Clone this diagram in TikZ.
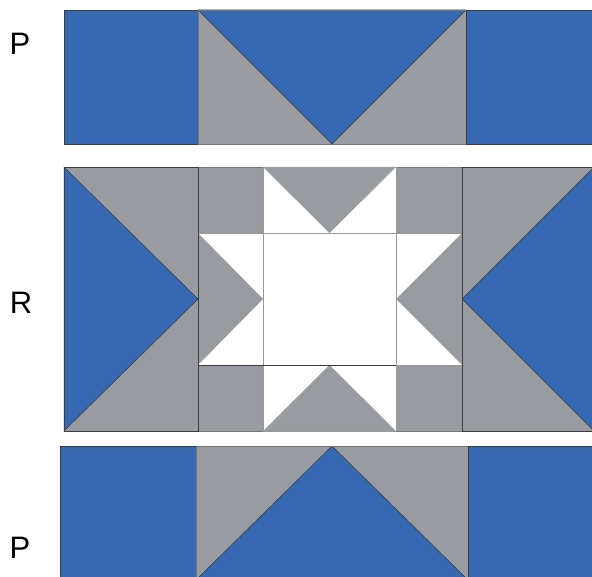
\documentclass[tikz,border=0pt]{standalone}
\usepackage{fontspec}
\setmainfont{Liberation Sans}
\usepackage{tikz}
\definecolor{quiltblue}{HTML}{3768B2}
\definecolor{quiltgray}{HTML}{989CA0}
\definecolor{seam}{HTML}{3C3C3C}
\tikzset{
  bluepatch/.style={fill=quiltblue, draw=seam, line width=0.5pt},
  graypatch/.style={fill=quiltgray, draw=seam!70, line width=0.5pt},
  whitepatch/.style={fill=white, draw=black!40, line width=0.4pt},
  rowlabel/.style={font=\fontsize{31}{31}\selectfont, inner sep=0pt}
}
\begin{document}
\begin{tikzpicture}[x=1pt, y=-1pt]
  \useasboundingbox (0,0) rectangle (592,577);
  \clip (0,0) rectangle (592,577);

  % top row P
  \fill[bluepatch] (64,10) rectangle (198,144);
  \fill[graypatch] (198,10) rectangle (466,144);
  \filldraw[bluepatch] (198,10) -- (466,10) -- (332,144) -- cycle;
  \draw[graypatch, fill=none] (198,10) rectangle (466,144);
  \fill[bluepatch] (466,10) rectangle (600,144);

  % middle row R
  \filldraw[graypatch] (64,167) rectangle (198,431);
  \filldraw[bluepatch] (64,167) -- (198,299) -- (64,431) -- cycle;
  \filldraw[graypatch] (462,167) rectangle (594,431);
  \filldraw[bluepatch] (594,167) -- (462,299) -- (594,431) -- cycle;
  \filldraw[graypatch] (198,167) rectangle (263,233);
  \filldraw[graypatch] (198,365) rectangle (263,431);
  \filldraw[graypatch] (396,167) rectangle (462,233);
  \filldraw[graypatch] (396,365) rectangle (462,431);
  \filldraw[whitepatch] (263,167) rectangle (396,233);
  \fill[quiltgray] (263,167) -- (396,167) -- (329.5,233) -- cycle;
  \filldraw[whitepatch] (263,365) rectangle (396,431);
  \fill[quiltgray] (263,431) -- (396,431) -- (329.5,365) -- cycle;
  \filldraw[whitepatch] (198,233) rectangle (263,365);
  \fill[quiltgray] (198,233) -- (263,299) -- (198,365) -- cycle;
  \filldraw[whitepatch] (396,233) rectangle (462,365);
  \fill[quiltgray] (462,233) -- (396,299) -- (462,365) -- cycle;
  \filldraw[whitepatch] (263,233) rectangle (396,365);
  \draw[seam, line width=0.6pt] (64,167) rectangle (198,431);
  \draw[seam, line width=0.6pt] (462,167) rectangle (594,431);
  \draw[seam, line width=0.6pt] (198,365) -- (396,365);

  % bottom row P
  \fill[bluepatch] (60,446) rectangle (196,580);
  \fill[graypatch] (196,446) rectangle (468,580);
  \filldraw[bluepatch] (196,580) -- (332,446) -- (468,580) -- cycle;
  \draw[graypatch, fill=none] (196,446) rectangle (468,580);
  \fill[bluepatch] (468,446) rectangle (600,580);

  \node[rowlabel] (ptop) at (20,44) {P};
  \node[rowlabel] (rmid) at (21,303) {R};
  \node[rowlabel] (pbot) at (20,548) {P};
\end{tikzpicture}
\end{document}
